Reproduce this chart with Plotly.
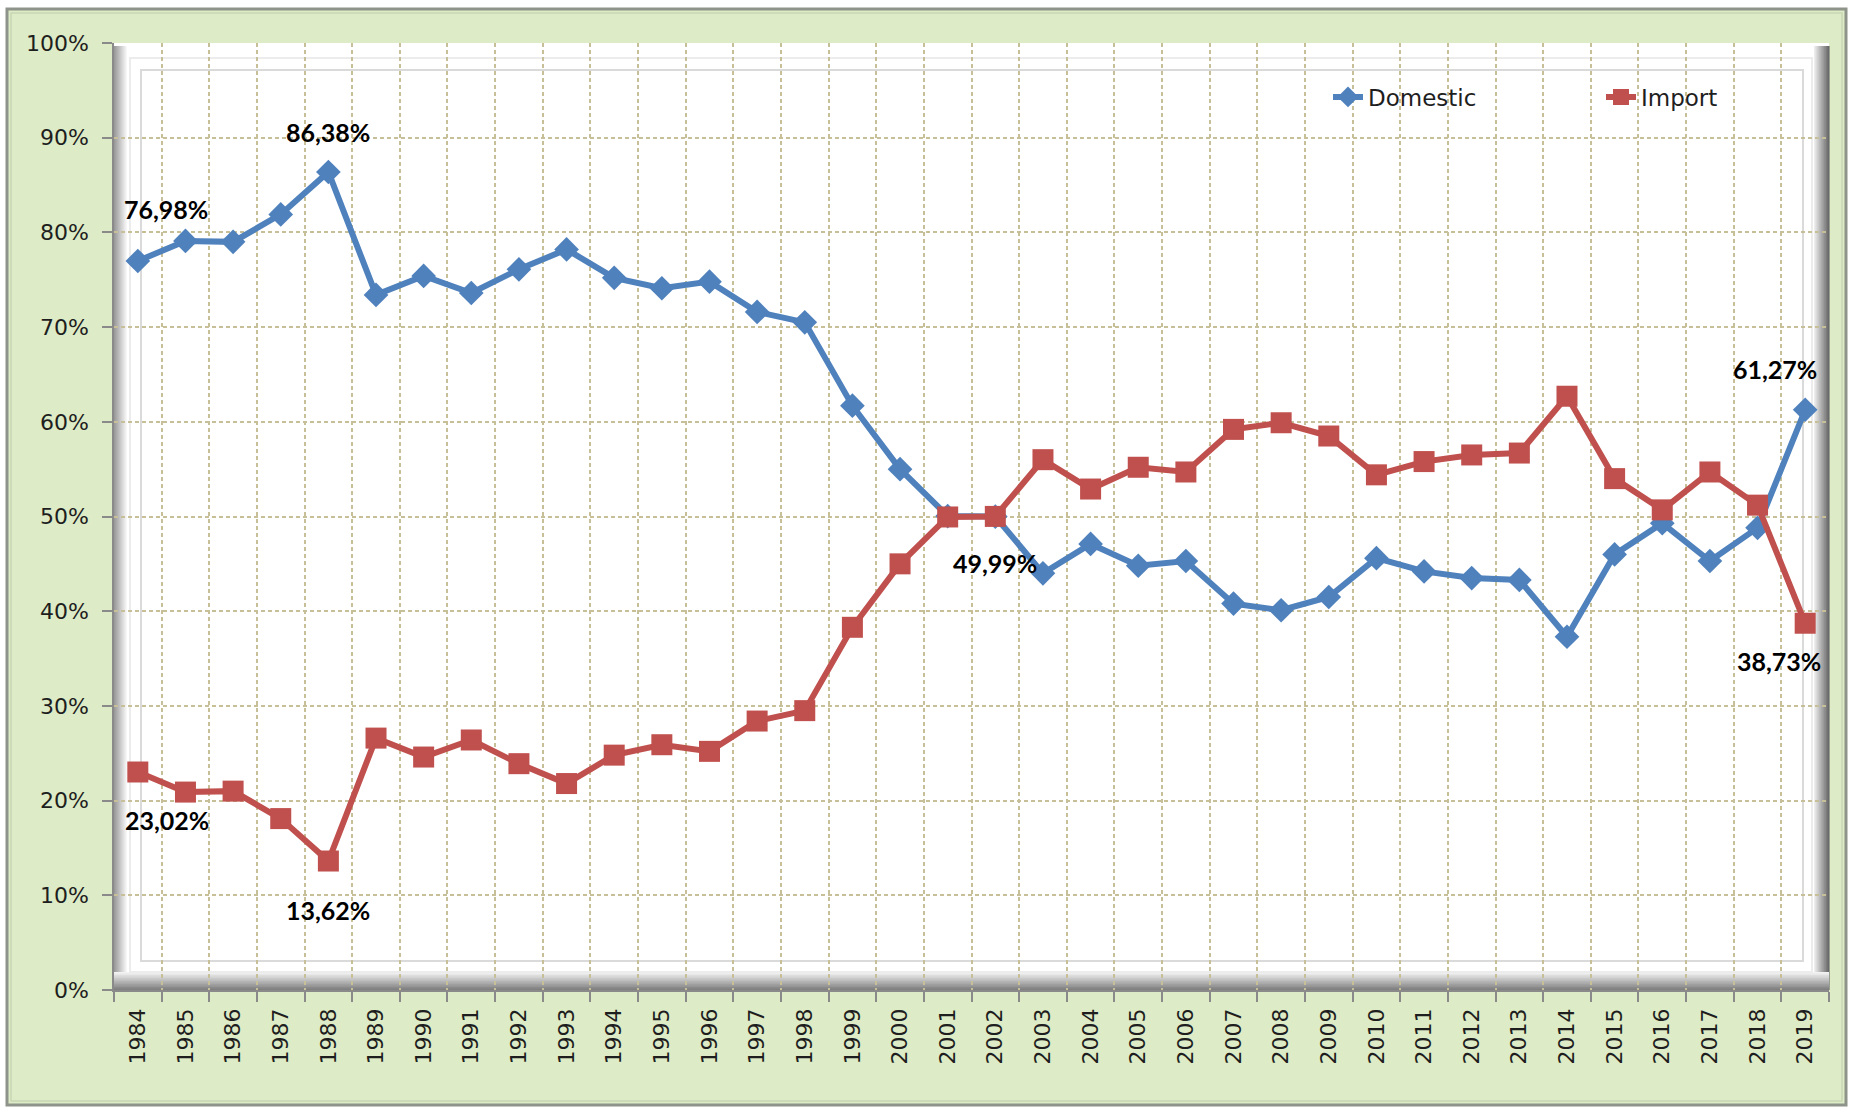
import plotly.graph_objects as go

# ---------------- data ----------------
years = ["1984", "1985", "1986", "1987", "1988", "1989", "1990", "1991", "1992",
         "1993", "1994", "1995", "1996", "1997", "1998", "1999", "2000", "2001",
         "2002", "2003", "2004", "2005", "2006", "2007", "2008", "2009", "2010",
         "2011", "2012", "2013", "2014", "2015", "2016", "2017", "2018", "2019"]

domestic = [76.98, 79.1, 79.0, 81.9, 86.38, 73.4, 75.4, 73.6, 76.1,
            78.2, 75.2, 74.1, 74.8, 71.6, 70.5, 61.7, 55.0, 50.05,
            49.99, 44.0, 47.1, 44.8, 45.3, 40.8, 40.1, 41.5, 45.6,
            44.2, 43.5, 43.3, 37.3, 46.0, 49.3, 45.3, 48.8, 61.27]

imports = [23.02, 20.9, 21.0, 18.1, 13.62, 26.6, 24.6, 26.4, 23.9,
           21.8, 24.8, 25.9, 25.2, 28.4, 29.5, 38.3, 45.0, 49.95,
           50.01, 56.0, 52.9, 55.2, 54.7, 59.2, 59.9, 58.5, 54.4,
           55.8, 56.5, 56.7, 62.7, 54.0, 50.7, 54.7, 51.2, 38.73]

y_ticks = [0, 10, 20, 30, 40, 50, 60, 70, 80, 90, 100]
y_ticktext = ["0%", "10%", "20%", "30%", "40%", "50%", "60%", "70%", "80%", "90%", "100%"]

# labelled points
domestic_labels = ["1984", "1988", "2002", "2019"]
import_labels = ["1984", "1988", "2019"]

# ---------------- layout geometry (pixels) ----------------
W, H = 1849, 1109
PL, PR, PT, PB = 114, 1829, 43, 990  # plot area


def px(x):
    return (x - PL) / (PR - PL)


def py(y):
    return (PB - y) / (PB - PT)


def hexmix(c1, c2, t):
    a = [int(c1[i:i + 2], 16) for i in (1, 3, 5)]
    b = [int(c2[i:i + 2], 16) for i in (1, 3, 5)]
    return "#" + "".join(f"{round(a[k] + (b[k] - a[k]) * t):02x}" for k in range(3))


shapes = []


def rect(x0, y0, x1, y1, fill=None, line=None, lw=0):
    shapes.append(dict(type="rect", xref="paper", yref="paper",
                       x0=px(x0), x1=px(x1), y0=py(y1), y1=py(y0),
                       fillcolor=fill if fill else "rgba(0,0,0,0)",
                       line=dict(color=line if line else "rgba(0,0,0,0)", width=lw),
                       layer="below"))


def hgrad(x0, x1, y0, y1, c0, c1, n=12):
    step = (x1 - x0) / n
    for i in range(n):
        rect(x0 + i * step, y0, x0 + (i + 1) * step + 0.6, y1, fill=hexmix(c0, c1, i / (n - 1)))


def vgrad(y0, y1, x0, x1, c0, c1, n=12):
    step = (y1 - y0) / n
    for i in range(n):
        rect(x0, y0 + i * step, x1, y0 + (i + 1) * step + 0.6, fill=hexmix(c0, c1, i / (n - 1)))


# outer chart area
rect(7, 9, 1846, 1105, fill="#DDEBC6", line="#8e948a", lw=3)
rect(11, 13, 1842, 1101, line="#c9d6b5", lw=1.5)
# plot area
rect(PL, PT, PR, PB, fill="#ffffff")
# bevel bands
hgrad(PL, PL + 12, PT + 3, PB, "#9a9a9a", "#f0f0f0")
hgrad(PR - 15, PR, PT + 3, PB, "#ededed", "#6a6a6a")
vgrad(PB - 18, PB, PL, PR, "#f2f2f2", "#808080")
# inner faint bevel lines
rect(130, 58, 1812, 972, line="#ececec", lw=2)
rect(141, 70, 1803, 961, line="#dadada", lw=2)

# ---------------- figure ----------------
fig = go.Figure()

fig.add_trace(go.Scatter(
    x=years, y=domestic, name="Domestic", mode="lines+markers",
    line=dict(color="#4F81BD", width=6),
    marker=dict(symbol="diamond", size=19, color="#4F81BD"),
    legend="legend",
))
fig.add_trace(go.Scatter(
    x=years, y=imports, name="Import", mode="lines+markers",
    line=dict(color="#C0504D", width=6),
    marker=dict(symbol="square", size=21, color="#C0504D"),
    legend="legend2",
))


def fmt(v):
    return f"{v:.2f}".replace(".", ",") + "%"


label_font = dict(family="Lato", size=25, color="#000000")
dom_off = {"1984": (28, 52), "1988": (0, 40), "2002": (0, -46), "2019": (-30, 41)}
imp_off = {"1984": (29, -48), "1988": (0, -49), "2019": (-26, -38)}

annotations = []
for yr in domestic_labels:
    i = years.index(yr)
    v = domestic[i]
    dx, dy = dom_off[yr]
    annotations.append(dict(x=i, y=v, xref="x", yref="y", text="<b>" + fmt(v) + "</b>",
                            showarrow=False, xshift=dx, yshift=dy, font=label_font))
for yr in import_labels:
    i = years.index(yr)
    v = imports[i]
    dx, dy = imp_off[yr]
    annotations.append(dict(x=i, y=v, xref="x", yref="y", text="<b>" + fmt(v) + "</b>",
                            showarrow=False, xshift=dx, yshift=dy, font=label_font))

axis_font = dict(family="DejaVu Sans", size=22, color="#1e1e1e")
legend_font = dict(family="DejaVu Sans", size=23, color="#1e1e1e")
grid_color = "#C7BF98"

fig.update_layout(
    width=W, height=H,
    margin=dict(l=PL, r=W - PR, t=PT, b=H - PB, pad=0, autoexpand=False),
    paper_bgcolor="#ffffff",
    plot_bgcolor="rgba(0,0,0,0)",
    shapes=shapes,
    annotations=annotations,
    showlegend=True,
    legend=dict(x=px(1328), xanchor="left", y=py(97), yanchor="middle",
                bgcolor="rgba(0,0,0,0)", font=legend_font),
    legend2=dict(x=px(1601), xanchor="left", y=py(97), yanchor="middle",
                 bgcolor="rgba(0,0,0,0)", font=legend_font),
    xaxis=dict(
        type="category", categoryorder="array", categoryarray=years,
        range=[-0.5, len(years) - 0.5], automargin=False,
        tickson="boundaries", ticks="outside", ticklen=10, tickwidth=1.5, tickcolor="#8a8a8a",
        showline=True, linecolor="#8a8a8a", linewidth=1.5,
        showgrid=True, gridcolor=grid_color, gridwidth=1.5, griddash="4px,3px",
        tickangle=-90, tickfont=axis_font, ticklabelstandoff=8,
        zeroline=False,
    ),
    yaxis=dict(
        range=[0, 100], tickmode="array", tickvals=y_ticks, ticktext=y_ticktext,
        automargin=False,
        ticks="outside", ticklen=10, tickwidth=1.5, tickcolor="#8a8a8a",
        showline=True, linecolor="#8a8a8a", linewidth=1.5,
        showgrid=True, gridcolor=grid_color, gridwidth=1.5, griddash="4px,3px",
        tickfont=axis_font, ticklabelstandoff=9, zeroline=False,
    ),
)

fig.write_html("out.html", config={"displayModeBar": False},
               post_script="document.body.style.margin='0';document.body.style.overflow='hidden';")
